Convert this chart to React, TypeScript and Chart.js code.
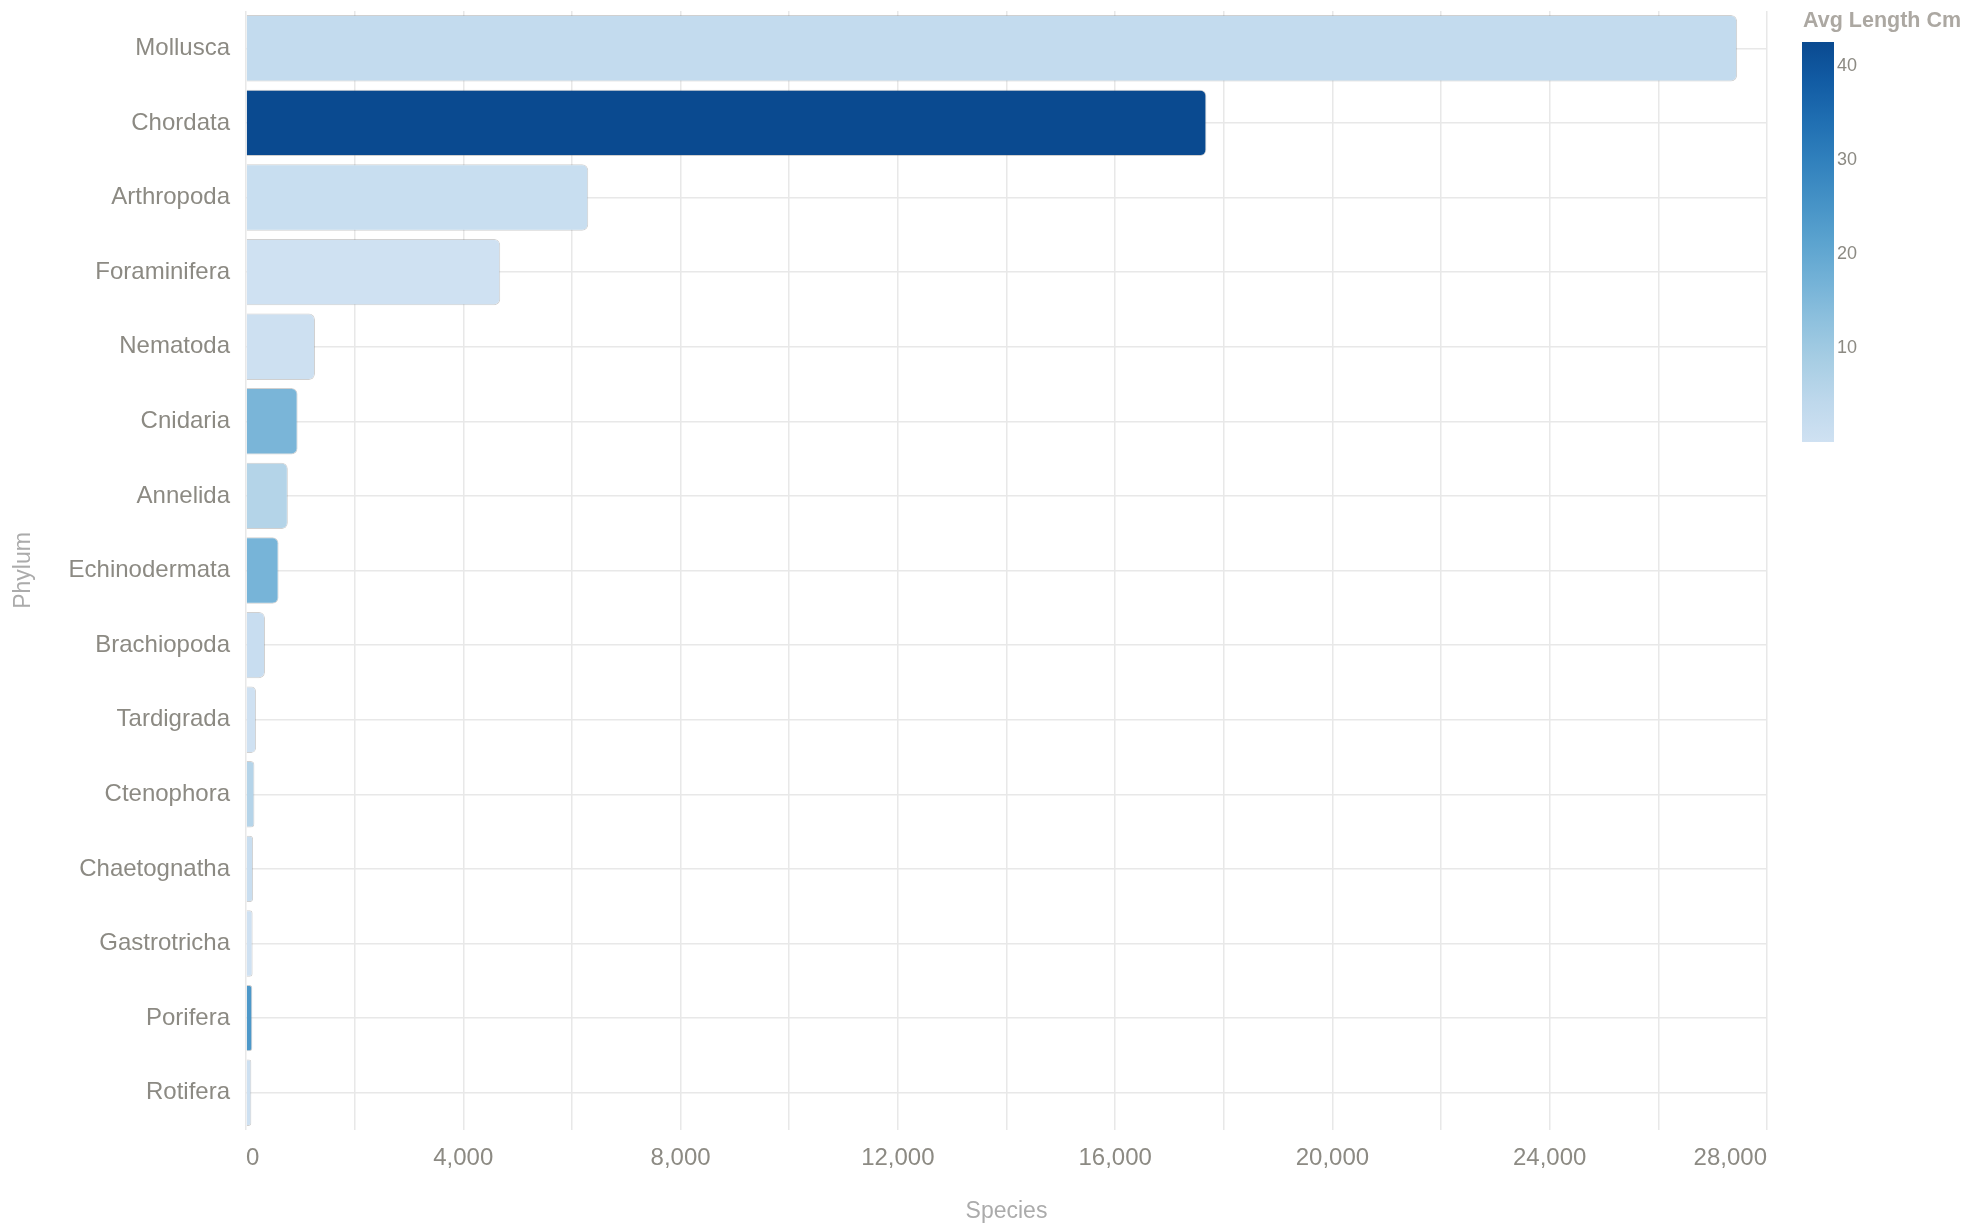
import { useEffect, useRef } from "react";
import { Chart, ChartConfiguration, Plugin, registerables } from "chart.js";
Chart.register(...registerables);

const phyla = [
  "Mollusca",
  "Chordata",
  "Arthropoda",
  "Foraminifera",
  "Nematoda",
  "Cnidaria",
  "Annelida",
  "Echinodermata",
  "Brachiopoda",
  "Tardigrada",
  "Ctenophora",
  "Chaetognatha",
  "Gastrotricha",
  "Porifera",
  "Rotifera",
];
const species = [
  27450, 17680, 6300, 4680, 1270, 950, 770, 600, 350, 185, 155, 130, 122, 116, 98,
];
const avgLengthCm = [
  3.0, 42.6, 1.7, 0.05, 0.6, 16.2, 6.2, 16.6, 1.8, 0.05, 6.0, 1.5, 0.1, 24.0, 0.5,
];
const colorTicks = [10, 20, 30, 40];
const blues = [
  "#cfe1f2",
  "#bed8ec",
  "#a8cee4",
  "#8fc1de",
  "#74b2d7",
  "#5ba3cf",
  "#4592c6",
  "#3181bd",
  "#206fb2",
  "#125ca4",
  "#0a4a90",
];

const lo = Math.min(...avgLengthCm);
const hi = Math.max(...avgLengthCm);

const hex = (c: string) => [1, 3, 5].map((i) => parseInt(c.slice(i, i + 2), 16));

// linear walk along the blues ramp
function blueAt(v: number) {
  const t = Math.min(1, Math.max(0, (v - lo) / (hi - lo)));
  const p = t * (blues.length - 1);
  const i = Math.min(blues.length - 2, Math.floor(p));
  const f = p - i;
  const a = hex(blues[i]);
  const b = hex(blues[i + 1]);
  const rgb = a.map((x, k) => Math.round(x + (b[k] - x) * f));
  return `rgb(${rgb.join(",")})`;
}

const FONT = "'Liberation Sans', Arial, Helvetica, sans-serif";
const tickGray = "#8c8a83";
const titleGray = "#ababab";

const colorBar: Plugin = {
  id: "colorBar",
  afterDraw(chart) {
    const ctx = chart.ctx;
    const x = chart.chartArea.right + 35;
    const w = 32;
    const top = 42;
    const bottom = 442;
    ctx.save();
    const g = ctx.createLinearGradient(0, bottom, 0, top);
    blues.forEach((c, i) => g.addColorStop(i / (blues.length - 1), c));
    ctx.fillStyle = g;
    ctx.fillRect(x, top, w, bottom - top);

    ctx.fillStyle = tickGray;
    ctx.font = `18px ${FONT}`;
    ctx.textAlign = "left";
    ctx.textBaseline = "middle";
    colorTicks.forEach((v) => {
      const y = bottom - ((v - lo) / (hi - lo)) * (bottom - top);
      ctx.fillText(String(v), x + w + 3, y);
    });

    ctx.fillStyle = "#aca8a2";
    ctx.font = `bold 21.5px ${FONT}`;
    ctx.fillText("Avg Length Cm", x + 1, 21);
    ctx.restore();
  },
};

export default function App() {
  const ref = useRef<HTMLCanvasElement>(null);

  useEffect(() => {
    const config: ChartConfiguration = {
      type: "bar",
      data: {
        labels: phyla,
        datasets: [
          {
            label: "Species",
            data: species,
            backgroundColor: avgLengthCm.map(blueAt),
            borderColor: "rgba(120,120,120,0.35)",
            borderWidth: 1,
            borderSkipped: "start",
            borderRadius: 6,
            barPercentage: 0.89,
            categoryPercentage: 1,
          },
        ],
      },
      options: {
        indexAxis: "y",
        animation: false,
        responsive: true,
        maintainAspectRatio: false,
        layout: { padding: { top: 11, right: 207, left: 0, bottom: 0 } },
        plugins: {
          legend: { display: false },
          tooltip: { enabled: false },
        },
        scales: {
          x: {
            min: 0,
            max: 28000,
            afterFit: (s) => {
              s.height = 102;
            },
            border: { display: false },
            grid: { color: "#e8e8e8", lineWidth: 1.5, drawTicks: false },
            ticks: {
              stepSize: 2000,
              autoSkip: false,
              maxRotation: 0,
              align: "inner",
              padding: 14,
              color: tickGray,
              font: { family: FONT, size: 24 },
              callback: (v) =>
                Number(v) % 4000 === 0 ? Number(v).toLocaleString("en-US") : "",
            },
            title: {
              display: true,
              text: "Species",
              color: titleGray,
              font: { family: FONT, size: 23 },
              padding: { top: 0, bottom: 7 },
            },
          },
          y: {
            afterFit: (s) => {
              s.width = 246;
              s.paddingTop = 0;
              s.paddingBottom = 0;
            },
            border: { display: false },
            grid: { color: "#e8e8e8", lineWidth: 1.5, drawTicks: false, offset: false },
            ticks: {
              padding: 16,
              color: tickGray,
              font: { family: FONT, size: 24 },
            },
            title: {
              display: true,
              text: "Phylum",
              color: titleGray,
              font: { family: FONT, size: 23 },
              padding: { top: 10, bottom: 0 },
            },
          },
        },
      },
      plugins: [colorBar],
    };
    const chart = new Chart(ref.current!, config);
    return () => {
      chart.destroy();
    };
  }, []);

  return (
    <div
      style={{
        position: "fixed",
        left: 0,
        top: 0,
        width: 1974,
        height: 1232,
        background: "#fff",
      }}
    >
      <canvas ref={ref}></canvas>
    </div>
  );
}
